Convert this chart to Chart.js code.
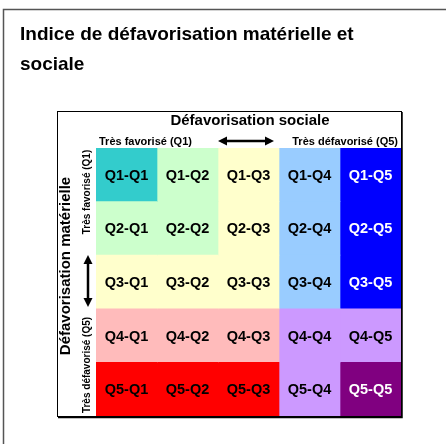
<!DOCTYPE html>
<html>
<head>
<meta charset="utf-8">
<script src="https://cdn.jsdelivr.net/npm/chart.js@4"></script>
<style>body{margin:0;background:#fff}</style>
</head>
<body>
<canvas id="c" width="447" height="444"></canvas>
<script>
// rows = défavorisation matérielle, cols = défavorisation sociale
const rows = ['Q1', 'Q2', 'Q3', 'Q4', 'Q5'];
const cols = ['Q1', 'Q2', 'Q3', 'Q4', 'Q5'];
const cellUnits = [1, 1, 1, 1, 1];
const cellColors = [
    ['#33CCCC', '#CCFFCC', '#FFFFCC', '#99CCFF', '#0000FF'],
    ['#CCFFCC', '#CCFFCC', '#FFFFCC', '#99CCFF', '#0000FF'],
    ['#FFFFCC', '#FFFFCC', '#FFFFCC', '#99CCFF', '#0000FF'],
    ['#FFBBBB', '#FFBBBB', '#FFBBBB', '#CC99FF', '#CC99FF'],
    ['#FF0000', '#FF0000', '#FF0000', '#CC99FF', '#800080']
];
const textColors = [
    ['#000', '#000', '#000', '#000', '#fff'],
    ['#000', '#000', '#000', '#000', '#fff'],
    ['#000', '#000', '#000', '#000', '#fff'],
    ['#000', '#000', '#000', '#000', '#000'],
    ['#000', '#000', '#000', '#000', '#fff']
];
const title = ['Indice de défavorisation matérielle et', 'sociale'];
const socialTitle = 'Défavorisation sociale';
const materialTitle = 'Défavorisation matérielle';
const lowLabel = 'Très favorisé (Q1)';
const highLabel = 'Très défavorisé (Q5)';

const FONT = '"Liberation Sans", Arial, sans-serif';

const datasets = cols.map((c, j) => ({
    label: c,
    data: rows.map(() => cellUnits[j]),
    backgroundColor: rows.map((r, i) => cellColors[i][j]),
    borderWidth: 0,
    barPercentage: 1,
    categoryPercentage: 1
}));

function arrow(ctx, x1, y1, x2, y2) {
    const ang = Math.atan2(y2 - y1, x2 - x1);
    const hl = 9, hw = 4.5;
    ctx.save();
    ctx.strokeStyle = '#000';
    ctx.fillStyle = '#000';
    ctx.lineWidth = 2.5;
    ctx.beginPath();
    ctx.moveTo(x1 + Math.cos(ang) * hl * 0.8, y1 + Math.sin(ang) * hl * 0.8);
    ctx.lineTo(x2 - Math.cos(ang) * hl * 0.8, y2 - Math.sin(ang) * hl * 0.8);
    ctx.stroke();
    [[x1, y1, ang + Math.PI], [x2, y2, ang]].forEach(([x, y, a]) => {
        ctx.beginPath();
        ctx.moveTo(x, y);
        ctx.lineTo(x - Math.cos(a) * hl - Math.sin(a) * hw, y - Math.sin(a) * hl + Math.cos(a) * hw);
        ctx.lineTo(x - Math.cos(a) * hl + Math.sin(a) * hw, y - Math.sin(a) * hl - Math.cos(a) * hw);
        ctx.closePath();
        ctx.fill();
    });
    ctx.restore();
}

function rotatedText(ctx, text, x, y, font) {
    ctx.save();
    ctx.translate(x, y);
    ctx.rotate(-Math.PI / 2);
    ctx.font = font;
    ctx.textAlign = 'center';
    ctx.textBaseline = 'middle';
    ctx.fillText(text, 0, 0);
    ctx.restore();
}

const frame = {
    id: 'frame',
    beforeDraw(chart) {
        const { ctx } = chart;
        ctx.save();
        ctx.fillStyle = '#fff';
        ctx.fillRect(0, 0, chart.width, chart.height);

        // outer panel border
        ctx.strokeStyle = '#555';
        ctx.lineWidth = 1.5;
        ctx.beginPath();
        ctx.moveTo(3.5, 460);
        ctx.lineTo(3.5, 9.5);
        ctx.lineTo(446, 9.5);
        ctx.stroke();

        ctx.fillStyle = '#000';
        ctx.font = 'bold 19px ' + FONT;
        ctx.textBaseline = 'alphabetic';
        ctx.fillText(title[0], 20, 40);
        ctx.fillText(title[1], 20, 70);

        // inner box
        ctx.fillStyle = '#fff';
        ctx.fillRect(57, 111, 344, 305);

        ctx.fillStyle = '#000';
        ctx.font = 'bold 15px ' + FONT;
        ctx.textAlign = 'center';
        ctx.fillText(socialTitle, 250, 125);

        ctx.font = 'bold 11px ' + FONT;
        ctx.textAlign = 'left';
        ctx.fillText(lowLabel, 99, 145);
        ctx.textAlign = 'right';
        ctx.fillText(highLabel, 398, 145);

        arrow(ctx, 218, 141, 274, 141);
        arrow(ctx, 88, 255, 88, 307);

        rotatedText(ctx, materialTitle, 66, 266, 'bold 15px ' + FONT);
        rotatedText(ctx, lowLabel, 87, 192, 'bold 10px ' + FONT);
        rotatedText(ctx, highLabel, 87, 365, 'bold 10px ' + FONT);
        ctx.restore();
    },
    afterDatasetsDraw(chart) {
        const { ctx } = chart;
        ctx.save();
        ctx.font = 'bold 14.5px ' + FONT;
        ctx.textAlign = 'center';
        ctx.textBaseline = 'middle';
        chart.data.datasets.forEach((ds, j) => {
            chart.getDatasetMeta(j).data.forEach((bar, i) => {
                const p = bar.getCenterPoint();
                ctx.fillStyle = textColors[i][j];
                ctx.fillText(rows[i] + '-' + cols[j], p.x, p.y + 1);
            });
        });
        ctx.strokeStyle = '#000';
        ctx.lineWidth = 1;
        ctx.strokeRect(57.5, 111.5, 344, 305);
        ctx.lineWidth = 1.5;
        ctx.beginPath();
        ctx.moveTo(402, 112);
        ctx.lineTo(402, 417.5);
        ctx.lineTo(58, 417.5);
        ctx.stroke();
        ctx.restore();
    }
};

new Chart(document.getElementById('c'), {
    type: 'bar',
    data: { labels: rows, datasets },
    options: {
        indexAxis: 'y',
        responsive: false,
        animation: false,
        layout: { padding: { left: 96, right: 46, top: 148, bottom: 28 } },
        plugins: { legend: { display: false }, tooltip: { enabled: false } },
        scales: {
            x: { stacked: true, min: 0, max: cols.length, display: false },
            y: { stacked: true, display: false }
        }
    },
    plugins: [frame]
});
</script>
</body>
</html>
